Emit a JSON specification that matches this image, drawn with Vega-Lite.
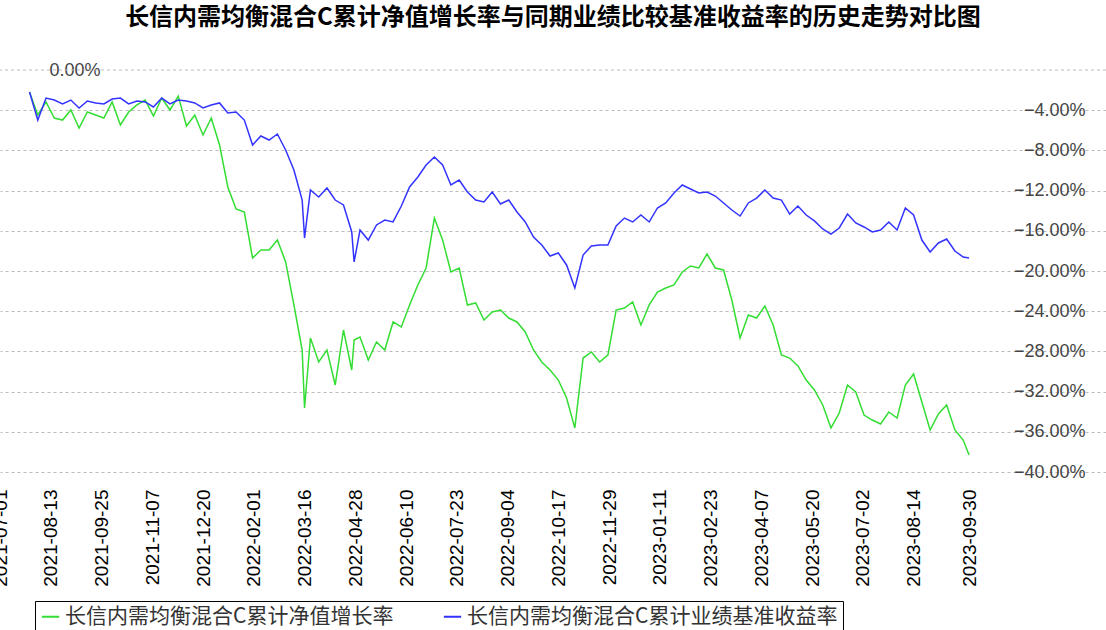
{
  "$schema": "https://vega.github.io/schema/vega-lite/v6.json",
  "width": 1106,
  "height": 402,
  "autosize": {"type": "none"},
  "padding": {"left": 0, "top": 70, "right": 0, "bottom": 158},
  "background": "white",
  "config": {"view": {"stroke": null}},
  "title": {"text": "长信内需均衡混合C累计净值增长率与同期业绩比较基准收益率的历史走势对比图", "fontSize": 24, "fontWeight": "bold", "font": "Noto Sans CJK SC", "color": "#000", "anchor": "middle", "offset": 31},
  "datasets": {
    "zero": [{"v": 0}],
    "perf": [
      {"date": "2021-07-26", "nav": -2.19, "bench": -2.19},
      {"date": "2021-08-02", "nav": -4.48, "bench": -4.98},
      {"date": "2021-08-09", "nav": -3.18, "bench": -2.79},
      {"date": "2021-08-16", "nav": -4.78, "bench": -2.99},
      {"date": "2021-08-23", "nav": -4.98, "bench": -3.38},
      {"date": "2021-08-30", "nav": -3.98, "bench": -2.99},
      {"date": "2021-09-06", "nav": -5.77, "bench": -3.78},
      {"date": "2021-09-13", "nav": -4.18, "bench": -3.08},
      {"date": "2021-09-20", "nav": -4.48, "bench": -3.28},
      {"date": "2021-09-27", "nav": -4.78, "bench": -3.38},
      {"date": "2021-10-04", "nav": -3.18, "bench": -2.89},
      {"date": "2021-10-11", "nav": -5.47, "bench": -2.79},
      {"date": "2021-10-18", "nav": -4.18, "bench": -3.38},
      {"date": "2021-10-25", "nav": -3.48, "bench": -3.08},
      {"date": "2021-11-01", "nav": -2.99, "bench": -3.18},
      {"date": "2021-11-08", "nav": -4.58, "bench": -3.68},
      {"date": "2021-11-15", "nav": -2.79, "bench": -2.79},
      {"date": "2021-11-22", "nav": -3.98, "bench": -3.38},
      {"date": "2021-11-29", "nav": -2.59, "bench": -2.99},
      {"date": "2021-12-06", "nav": -5.57, "bench": -3.08},
      {"date": "2021-12-13", "nav": -4.48, "bench": -3.28},
      {"date": "2021-12-20", "nav": -6.47, "bench": -3.78},
      {"date": "2021-12-27", "nav": -4.78, "bench": -3.48},
      {"date": "2022-01-03", "nav": -7.46, "bench": -3.28},
      {"date": "2022-01-10", "nav": -11.64, "bench": -4.28},
      {"date": "2022-01-17", "nav": -13.83, "bench": -4.18},
      {"date": "2022-01-24", "nav": -14.13, "bench": -4.98},
      {"date": "2022-01-31", "nav": -18.71, "bench": -7.46},
      {"date": "2022-02-07", "nav": -17.91, "bench": -6.57},
      {"date": "2022-02-14", "nav": -17.91, "bench": -6.97},
      {"date": "2022-02-21", "nav": -16.92, "bench": -6.37},
      {"date": "2022-02-28", "nav": -19.10, "bench": -7.96},
      {"date": "2022-03-07", "nav": -23.38, "bench": -9.95},
      {"date": "2022-03-14", "nav": -27.86, "bench": -12.94},
      {"date": "2022-03-16", "nav": -33.63, "bench": -16.72},
      {"date": "2022-03-21", "nav": -26.67, "bench": -11.94},
      {"date": "2022-03-28", "nav": -29.05, "bench": -12.64},
      {"date": "2022-04-04", "nav": -27.86, "bench": -11.74},
      {"date": "2022-04-11", "nav": -31.34, "bench": -12.94},
      {"date": "2022-04-18", "nav": -25.87, "bench": -13.43},
      {"date": "2022-04-25", "nav": -29.85, "bench": -16.12},
      {"date": "2022-04-27", "nav": -26.87, "bench": -19.10},
      {"date": "2022-05-02", "nav": -26.57, "bench": -15.92},
      {"date": "2022-05-09", "nav": -28.86, "bench": -16.92},
      {"date": "2022-05-16", "nav": -27.06, "bench": -15.42},
      {"date": "2022-05-23", "nav": -27.86, "bench": -14.93},
      {"date": "2022-05-30", "nav": -25.07, "bench": -15.12},
      {"date": "2022-06-06", "nav": -25.57, "bench": -13.53},
      {"date": "2022-06-13", "nav": -23.38, "bench": -11.64},
      {"date": "2022-06-20", "nav": -21.39, "bench": -10.65},
      {"date": "2022-06-27", "nav": -19.70, "bench": -9.45},
      {"date": "2022-07-04", "nav": -14.73, "bench": -8.66},
      {"date": "2022-07-11", "nav": -16.92, "bench": -9.45},
      {"date": "2022-07-18", "nav": -20.10, "bench": -11.44},
      {"date": "2022-07-25", "nav": -19.70, "bench": -10.95},
      {"date": "2022-08-01", "nav": -23.38, "bench": -12.14},
      {"date": "2022-08-08", "nav": -23.18, "bench": -12.94},
      {"date": "2022-08-15", "nav": -24.88, "bench": -13.13},
      {"date": "2022-08-22", "nav": -24.08, "bench": -12.14},
      {"date": "2022-08-29", "nav": -23.88, "bench": -13.33},
      {"date": "2022-09-05", "nav": -24.68, "bench": -12.94},
      {"date": "2022-09-12", "nav": -25.07, "bench": -14.13},
      {"date": "2022-09-19", "nav": -26.07, "bench": -15.12},
      {"date": "2022-09-26", "nav": -27.86, "bench": -16.62},
      {"date": "2022-10-03", "nav": -29.05, "bench": -17.41},
      {"date": "2022-10-10", "nav": -29.85, "bench": -18.51},
      {"date": "2022-10-17", "nav": -30.85, "bench": -18.21},
      {"date": "2022-10-24", "nav": -32.64, "bench": -19.40},
      {"date": "2022-10-31", "nav": -35.62, "bench": -21.69},
      {"date": "2022-11-07", "nav": -28.66, "bench": -18.41},
      {"date": "2022-11-14", "nav": -28.06, "bench": -17.51},
      {"date": "2022-11-21", "nav": -29.05, "bench": -17.41},
      {"date": "2022-11-28", "nav": -28.36, "bench": -17.41},
      {"date": "2022-12-05", "nav": -23.88, "bench": -15.52},
      {"date": "2022-12-12", "nav": -23.68, "bench": -14.73},
      {"date": "2022-12-19", "nav": -23.08, "bench": -15.12},
      {"date": "2022-12-26", "nav": -25.37, "bench": -14.43},
      {"date": "2023-01-02", "nav": -23.38, "bench": -15.12},
      {"date": "2023-01-09", "nav": -22.09, "bench": -13.73},
      {"date": "2023-01-16", "nav": -21.69, "bench": -13.23},
      {"date": "2023-01-23", "nav": -21.39, "bench": -12.24},
      {"date": "2023-01-30", "nav": -20.10, "bench": -11.44},
      {"date": "2023-02-06", "nav": -19.50, "bench": -11.84},
      {"date": "2023-02-13", "nav": -19.70, "bench": -12.24},
      {"date": "2023-02-20", "nav": -18.31, "bench": -12.14},
      {"date": "2023-02-27", "nav": -19.70, "bench": -12.54},
      {"date": "2023-03-06", "nav": -19.90, "bench": -13.23},
      {"date": "2023-03-13", "nav": -22.89, "bench": -13.93},
      {"date": "2023-03-20", "nav": -26.67, "bench": -14.53},
      {"date": "2023-03-27", "nav": -24.38, "bench": -13.23},
      {"date": "2023-04-03", "nav": -24.68, "bench": -12.74},
      {"date": "2023-04-10", "nav": -23.48, "bench": -11.94},
      {"date": "2023-04-17", "nav": -25.37, "bench": -12.74},
      {"date": "2023-04-24", "nav": -28.36, "bench": -12.94},
      {"date": "2023-05-01", "nav": -28.66, "bench": -14.33},
      {"date": "2023-05-08", "nav": -29.45, "bench": -13.53},
      {"date": "2023-05-15", "nav": -30.85, "bench": -14.43},
      {"date": "2023-05-22", "nav": -31.84, "bench": -15.02},
      {"date": "2023-05-29", "nav": -33.33, "bench": -15.82},
      {"date": "2023-06-05", "nav": -35.62, "bench": -16.32},
      {"date": "2023-06-12", "nav": -34.13, "bench": -15.72},
      {"date": "2023-06-19", "nav": -31.34, "bench": -14.33},
      {"date": "2023-06-26", "nav": -32.04, "bench": -15.22},
      {"date": "2023-07-03", "nav": -34.33, "bench": -15.62},
      {"date": "2023-07-10", "nav": -34.83, "bench": -16.12},
      {"date": "2023-07-17", "nav": -35.22, "bench": -15.92},
      {"date": "2023-07-24", "nav": -34.03, "bench": -15.12},
      {"date": "2023-07-31", "nav": -34.63, "bench": -15.92},
      {"date": "2023-08-07", "nav": -31.34, "bench": -13.73},
      {"date": "2023-08-14", "nav": -30.25, "bench": -14.43},
      {"date": "2023-08-21", "nav": -33.03, "bench": -16.92},
      {"date": "2023-08-28", "nav": -35.82, "bench": -18.11},
      {"date": "2023-09-04", "nav": -34.23, "bench": -17.21},
      {"date": "2023-09-11", "nav": -33.33, "bench": -16.82},
      {"date": "2023-09-18", "nav": -35.82, "bench": -18.01},
      {"date": "2023-09-25", "nav": -36.82, "bench": -18.61},
      {"date": "2023-09-30", "nav": -38.31, "bench": -18.71}
    ]
  },
  "layer": [
    {
      "data": {"name": "zero"},
      "mark": {"type": "rule", "color": "#bbbbbb", "strokeDash": [3, 3], "strokeWidth": 1},
      "encoding": {
        "y": {
          "field": "v", "type": "quantitative",
          "scale": {"domain": [-40, 0], "nice": false, "zero": false},
          "axis": {"orient": "left", "values": [0], "grid": false, "domain": false, "ticks": false, "labelPadding": -100, "labelAlign": "right", "labelExpr": "format(datum.value, '.2f') + '%'", "labelFontSize": 18, "labelFont": "Liberation Sans", "labelColor": "#444444", "title": null}
        }
      }
    },
    {
      "data": {"name": "perf"},
      "transform": [{"fold": ["nav", "bench"], "as": ["series", "value"]}],
      "mark": {"type": "line", "strokeWidth": 1.5},
      "encoding": {
        "x": {
          "field": "date", "type": "temporal",
          "scale": {"type": "utc", "domain": [{"year": 2021, "month": 7, "date": 1, "utc": true}, {"year": 2024, "month": 1, "date": 24, "utc": true}]},
          "axis": {
            "values": [
              {"year": 2021, "month": 7, "date": 1, "utc": true},
              {"year": 2021, "month": 8, "date": 13, "utc": true},
              {"year": 2021, "month": 9, "date": 25, "utc": true},
              {"year": 2021, "month": 11, "date": 7, "utc": true},
              {"year": 2021, "month": 12, "date": 20, "utc": true},
              {"year": 2022, "month": 2, "date": 1, "utc": true},
              {"year": 2022, "month": 3, "date": 16, "utc": true},
              {"year": 2022, "month": 4, "date": 28, "utc": true},
              {"year": 2022, "month": 6, "date": 10, "utc": true},
              {"year": 2022, "month": 7, "date": 23, "utc": true},
              {"year": 2022, "month": 9, "date": 4, "utc": true},
              {"year": 2022, "month": 10, "date": 17, "utc": true},
              {"year": 2022, "month": 11, "date": 29, "utc": true},
              {"year": 2023, "month": 1, "date": 11, "utc": true},
              {"year": 2023, "month": 2, "date": 23, "utc": true},
              {"year": 2023, "month": 4, "date": 7, "utc": true},
              {"year": 2023, "month": 5, "date": 20, "utc": true},
              {"year": 2023, "month": 7, "date": 2, "utc": true},
              {"year": 2023, "month": 8, "date": 14, "utc": true},
              {"year": 2023, "month": 9, "date": 30, "utc": true}
            ],
            "labelExpr": "utcFormat(datum.value, '%Y-%m-%d')",
            "labelAngle": 270, "labelAlign": "right", "labelBaseline": "middle", "labelPadding": 17,
            "labelFontSize": 19, "labelFont": "Liberation Sans", "labelColor": "#000000",
            "ticks": false, "domain": false, "grid": false, "labelOverlap": false, "labelBound": false, "labelFlush": false, "title": null
          }
        },
        "y": {
          "field": "value", "type": "quantitative",
          "scale": {"domain": [-40, 0], "nice": false, "zero": false},
          "axis": {"orient": "right", "values": [-40, -36, -32, -28, -24, -20, -16, -12, -8, -4], "grid": true, "gridDash": [3, 3], "gridColor": "#bbbbbb", "domain": false, "ticks": false, "labelAlign": "right", "labelPadding": -21, "labelExpr": "format(datum.value, '.2f') + '%'", "labelFontSize": 18, "labelFont": "Liberation Sans", "labelColor": "#444444", "title": null}
        },
        "color": {
          "field": "series", "type": "nominal",
          "scale": {"domain": ["nav", "bench"], "range": ["#33dd33", "#3333ff"]},
          "legend": {
            "orient": "none", "legendX": 35, "legendY": 531, "direction": "horizontal",
            "strokeColor": "#000000", "fillColor": "#ffffff", "padding": 5, "title": null,
            "labelFontSize": 21, "labelFont": "Noto Sans CJK SC", "labelColor": "#333333", "labelLimit": 0,
            "symbolType": "stroke", "symbolStrokeWidth": 2, "symbolSize": 300, "columnPadding": 45,
            "labelExpr": "datum.label == 'nav' ? '长信内需均衡混合C累计净值增长率' : '长信内需均衡混合C累计业绩基准收益率'"
          }
        }
      }
    }
  ],
  "resolve": {"scale": {"y": "independent"}}
}
